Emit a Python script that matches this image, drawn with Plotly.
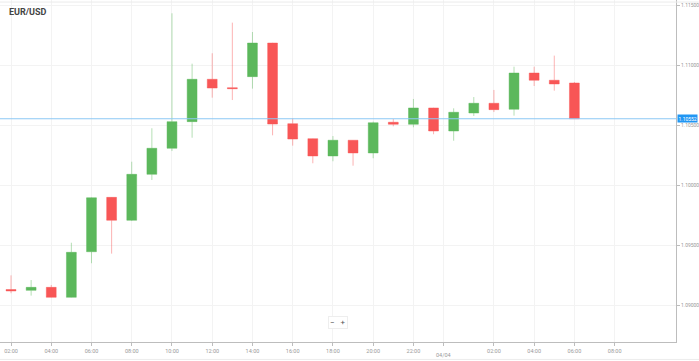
import plotly.graph_objects as go

times = ["2019-04-03 %02d:00" % h for h in range(2, 24)] + ["2019-04-04 %02d:00" % h for h in range(0, 7)]
opens = [1.09129, 1.09122, 1.09147, 1.09064, 1.09444, 1.09897, 1.09706, 1.10089, 1.10306, 1.10528,
         1.10881, 1.10811, 1.10903, 1.11183, 1.10511, 1.10386, 1.10242, 1.10373, 1.10267, 1.10523,
         1.10506, 1.10642, 1.10450, 1.10600, 1.10681, 1.10631, 1.10933, 1.10873, 1.10850]
highs = [1.09247, 1.09208, 1.09167, 1.09519, 1.09897, 1.09900, 1.10194, 1.10473, 1.11431, 1.11011,
         1.11098, 1.11353, 1.11275, 1.11185, 1.10556, 1.10388, 1.10408, 1.10375, 1.10528, 1.10550,
         1.10717, 1.10644, 1.10639, 1.10733, 1.10792, 1.10986, 1.10986, 1.11078, 1.10858]
lows = [1.09098, 1.09078, 1.09062, 1.09062, 1.09348, 1.09428, 1.09700, 1.10042, 1.10283, 1.10394,
        1.10728, 1.10708, 1.10803, 1.10414, 1.10328, 1.10181, 1.10198, 1.10161, 1.10223, 1.10489,
        1.10481, 1.10423, 1.10369, 1.10575, 1.10608, 1.10578, 1.10825, 1.10786, 1.10552]
closes = [1.09117, 1.09147, 1.09064, 1.09439, 1.09894, 1.09706, 1.10089, 1.10306, 1.10528, 1.10881,
          1.10808, 1.10803, 1.11183, 1.10508, 1.10383, 1.10242, 1.10373, 1.10267, 1.10519, 1.10506,
          1.10642, 1.10450, 1.10606, 1.10681, 1.10628, 1.10933, 1.10873, 1.10842, 1.10552]

tick_vals = ["2019-04-03 02:00", "2019-04-03 04:00", "2019-04-03 06:00", "2019-04-03 08:00",
             "2019-04-03 10:00", "2019-04-03 12:00", "2019-04-03 14:00", "2019-04-03 16:00",
             "2019-04-03 18:00", "2019-04-03 20:00", "2019-04-03 22:00", "2019-04-03 23:31",
             "2019-04-04 02:00", "2019-04-04 04:00", "2019-04-04 06:00", "2019-04-04 08:00"]
tick_text = ["02:00", "04:00", "06:00", "08:00", "10:00", "12:00", "14:00", "16:00", "18:00",
             "20:00", "22:00", "", "02:00", "04:00", "06:00", "08:00"]
day_label = "04/04"
day_pos = "2019-04-03 23:31"
y_ticks = [1.09, 1.095, 1.10, 1.105, 1.11, 1.115]
last_price = closes[-1]
title = "EUR/USD"

fig = go.Figure()
fig.add_trace(go.Candlestick(
    x=times, open=opens, high=highs, low=lows, close=closes,
    increasing=dict(fillcolor="#5cb85c", line=dict(color="rgba(92,184,92,0.45)", width=1)),
    decreasing=dict(fillcolor="#f85656", line=dict(color="rgba(248,86,86,0.45)", width=1)),
    whiskerwidth=0, showlegend=False, hoverinfo="skip"))

fig.update_layout(
    width=699, height=361,
    margin=dict(l=0, r=23, t=0, b=19, autoexpand=False),
    paper_bgcolor="white", plot_bgcolor="white",
    font=dict(family="Roboto", color="#999", size=5),
    showlegend=False,
    xaxis=dict(
        range=["2019-04-03 01:27:10", "2019-04-04 11:03"],
        rangeslider=dict(visible=False),
        tickmode="array", tickvals=tick_vals, ticktext=tick_text,
        showgrid=True, gridcolor="#f3f3f3", gridwidth=1,
        showline=True, linecolor="#bdbdbd", linewidth=1,
        ticks="outside", ticklen=3, tickcolor="#bdbdbd",
        tickfont=dict(size=5.5, color="#999"), zeroline=False,
    ),
    yaxis=dict(
        side="right",
        range=[1.086917, 1.115417],
        tickmode="array", tickvals=y_ticks, tickformat=".5f",
        showgrid=True, gridcolor="#f3f3f3", gridwidth=1,
        showline=True, linecolor="#bdbdbd", linewidth=1,
        ticks="outside", ticklen=3, tickcolor="#bdbdbd",
        tickfont=dict(size=5, color="#999"), zeroline=False,
    ),
    shapes=[
        dict(type="line", xref="paper", yref="y", x0=0, x1=1, y0=last_price, y1=last_price,
             line=dict(color="#8cc8f5", width=1)),
        dict(type="line", xref="paper", yref="paper", x0=0, x1=1.034, y0=0.994, y1=0.994,
             line=dict(color="#ececec", width=1)),
        dict(type="line", xref="paper", yref="paper", x0=0, x1=1.034, y0=-0.051, y1=-0.051,
             line=dict(color="#ececec", width=1)),
    ],
    annotations=[
        dict(text="<b>" + title + "</b>", xref="paper", yref="paper", x=0.011, y=0.985,
             xanchor="left", yanchor="top", showarrow=False,
             font=dict(family="Roboto", size=9, color="#444")),
        dict(text=day_label, xref="x", yref="paper", x=day_pos, y=-0.022, xanchor="center",
             yanchor="top", showarrow=False, font=dict(size=5.5, color="#999")),
        dict(text="%.5f" % last_price, xref="paper", yref="y", x=1.002, y=last_price,
             xanchor="left", yanchor="middle", showarrow=False, bgcolor="#2196f3",
             font=dict(size=5, color="white"), borderpad=0.5),
        dict(text="−   +", xref="paper", yref="paper", x=0.5, y=0.058, xanchor="center",
             yanchor="middle", showarrow=False, bgcolor="white", bordercolor="#eeeeee",
             borderwidth=1, borderpad=1, font=dict(size=8, color="#555")),
    ],
)

fig.write_html("out.html", config={"displayModeBar": False},
               post_script="document.body.style.margin='0';document.body.style.overflow='hidden';")
